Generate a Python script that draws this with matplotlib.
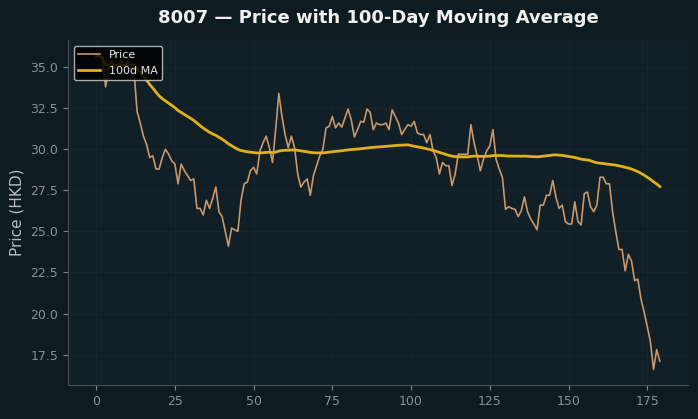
import numpy as np
import pandas as pd
import matplotlib
matplotlib.use("Agg")
import matplotlib.pyplot as plt

ticker = "8007"
ma_window = 100

price = [
    35.7, 35.6, 35.5, 33.8, 35.0, 35.4, 34.9, 35.1, 35.4, 34.9,
    35.4, 35.1, 34.8, 32.3, 31.6, 30.8, 30.3, 29.5, 29.6, 28.8,
    28.8, 29.5, 30.0, 29.7, 29.3, 29.1, 27.9, 29.1, 28.7, 28.4,
    28.1, 28.2, 26.4, 26.4, 26.0, 26.9, 26.4, 27.0, 27.7, 26.2,
    25.9, 25.0, 24.1, 25.2, 25.1, 25.0, 26.9, 27.9, 28.0, 28.7,
    28.9, 28.5, 29.9, 30.4, 30.8, 30.1, 29.2, 31.2, 33.4, 32.0,
    30.9, 30.1, 30.8, 30.1, 28.5, 27.7, 28.0, 28.2, 27.2, 28.4,
    29.0, 29.6, 30.0, 31.3, 31.4, 32.0, 31.3, 31.6, 31.35, 31.9,
    32.45, 31.8, 30.75, 31.2, 31.7, 31.65, 32.45, 32.25, 31.2, 31.6,
    31.5, 31.5, 31.6, 31.2, 32.4, 32.0, 31.6, 30.9, 31.2, 31.5,
    31.4, 31.7, 31.0, 30.9, 30.9, 30.4, 30.9, 29.9, 29.5, 28.5,
    29.2, 29.0, 29.0, 27.8, 28.5, 29.7, 29.7, 29.7, 29.7, 31.5,
    30.4, 29.6, 28.7, 29.4, 29.9, 30.2, 31.2, 29.4, 28.8, 28.3,
    26.35, 26.5, 26.4, 26.35, 25.9, 26.25, 27.1, 26.2, 25.75, 25.45,
    25.1, 26.6, 26.6, 27.2, 27.2, 28.1, 27.1, 26.4, 26.6, 25.6,
    25.45, 25.45, 26.8, 25.6, 25.4, 27.3, 27.4, 26.5, 26.2, 26.6,
    28.3, 28.3, 27.9, 27.9, 26.2, 25.0, 23.9, 23.9, 22.6, 23.6,
    23.2, 22.0, 22.1, 20.9, 20.1, 19.2, 18.3, 16.6, 17.8, 17.1,
]

days = np.arange(len(price))
ma = pd.Series(price).rolling(ma_window, min_periods=1).mean()

fig_bg = "#0e1c21"
ax_bg = "#111f27"

fig = plt.figure(figsize=(6.98, 4.19), dpi=100, facecolor=fig_bg)
ax = fig.add_axes([0.0974, 0.0811, 0.8883, 0.8234], facecolor=ax_bg)

ax.plot(days, price, color="#c8976a", linewidth=1.2, label="Price")
ax.plot(days, ma, color="#e0b11a", linewidth=2.0, label=f"{ma_window}d MA")

ax.set_title(f"{ticker} — Price with 100-Day Moving Average",
             color="#f0f0f0", fontsize=13, fontweight="bold", pad=12)
ax.set_ylabel("Price (HKD)", color="#b8bcc0", fontsize=11)

ax.grid(True, color="#17262d", linewidth=0.8)
ax.set_axisbelow(True)
for s in ["top", "right"]:
    ax.spines[s].set_visible(False)
for s in ["left", "bottom"]:
    ax.spines[s].set_color("#4a4f52")
ax.tick_params(colors="#7f8588", labelsize=9, labelcolor="#8a9094")

leg = ax.legend(loc="upper left", fontsize=8, facecolor="#000000",
                edgecolor="#c8c8c8", framealpha=0.85, labelcolor="#e8e8e8")

fig.savefig("out.png", dpi=100, facecolor=fig_bg)
